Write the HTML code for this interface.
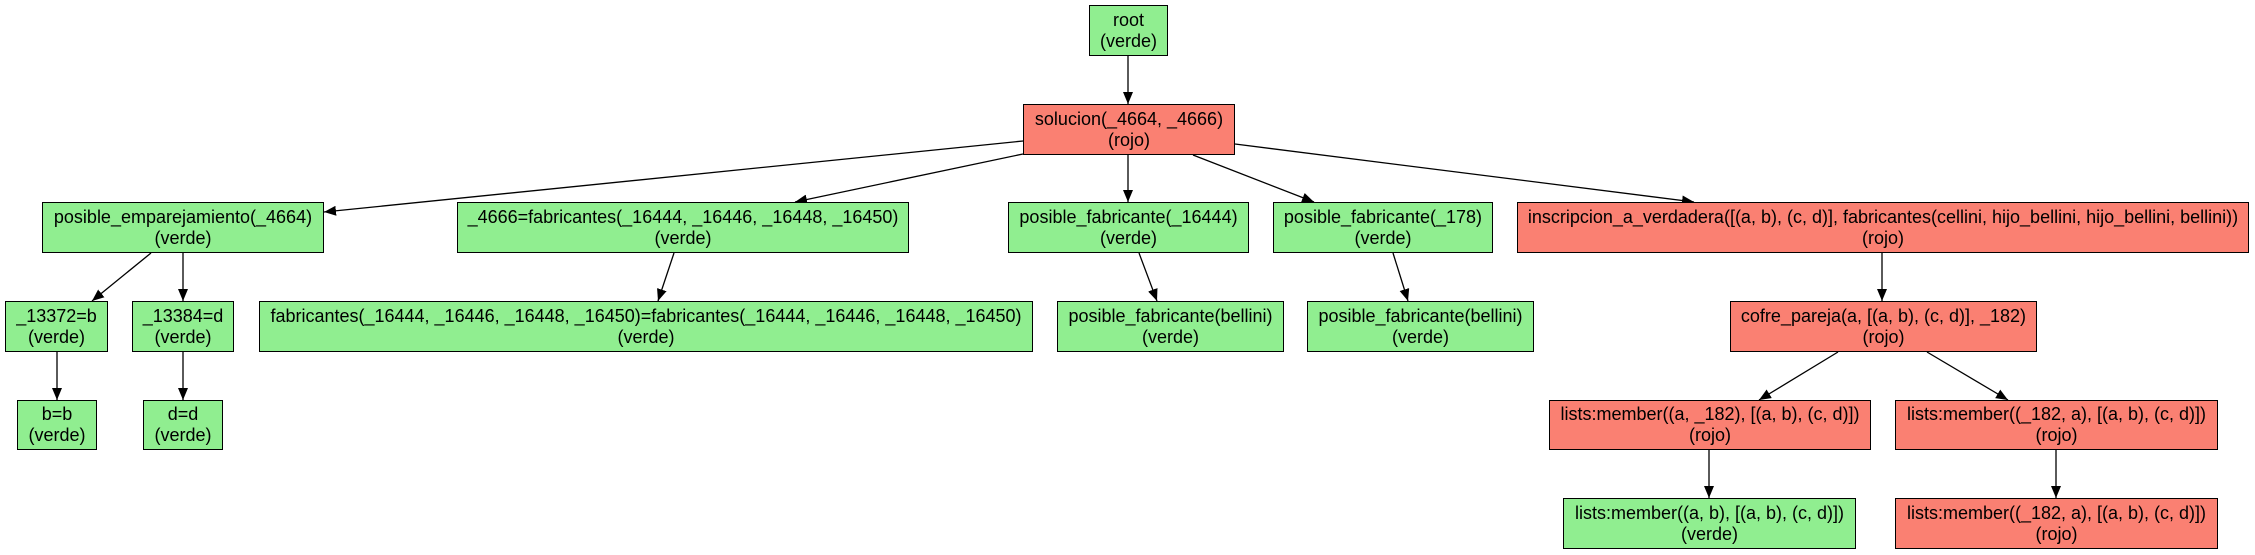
<!DOCTYPE html>
<html><head><meta charset="utf-8"><style>
body{margin:0;width:2255px;height:555px;background:#fff;position:relative;overflow:hidden;font-family:"Liberation Sans",Arial,sans-serif;}
.n{position:absolute;box-sizing:border-box;border:1.5px solid #000;display:flex;flex-direction:column;justify-content:center;align-items:center;text-align:center;font-size:18px;line-height:21px;color:#000;white-space:nowrap;}
.n span{display:block;text-align:center}
.g{background:#90ee90}.r{background:#fa8072}
svg{position:absolute;left:0;top:0}
</style></head><body>
<svg width="2255" height="555">
<defs><marker id="a" markerWidth="12" markerHeight="10" refX="12" refY="5" orient="auto" markerUnits="userSpaceOnUse"><path d="M0,0 L12,5 L0,10 z" fill="#000"/></marker></defs>
<g stroke="#000" stroke-width="1.3" marker-end="url(#a)">
<line x1="1128" y1="56" x2="1128" y2="104"/>
<line x1="1023" y1="141" x2="324" y2="212"/>
<line x1="1023" y1="154" x2="795" y2="202"/>
<line x1="1128" y1="155" x2="1128" y2="202"/>
<line x1="1193" y1="155" x2="1314" y2="202"/>
<line x1="1235" y1="144" x2="1694" y2="202"/>
<line x1="151" y1="253" x2="92" y2="301"/>
<line x1="183" y1="253" x2="183" y2="301"/>
<line x1="674" y1="253" x2="658" y2="301"/>
<line x1="1139" y1="253" x2="1157" y2="301"/>
<line x1="1393" y1="253" x2="1408" y2="301"/>
<line x1="1882" y1="253" x2="1882" y2="301"/>
<line x1="57" y1="352" x2="57" y2="400"/>
<line x1="183" y1="352" x2="183" y2="400"/>
<line x1="1838" y1="352" x2="1759" y2="400"/>
<line x1="1927" y1="352" x2="2008" y2="400"/>
<line x1="1709" y1="450" x2="1709" y2="498"/>
<line x1="2056" y1="450" x2="2056" y2="498"/>
</g></svg>
<div class="n g" style="left:1089px;top:5px;width:79px;height:51px"><span>root</span><span>(verde)</span></div>
<div class="n r" style="left:1023px;top:104px;width:212px;height:51px"><span>solucion(_4664, _4666)</span><span>(rojo)</span></div>
<div class="n g" style="left:42px;top:202px;width:282px;height:51px"><span>posible_emparejamiento(_4664)</span><span>(verde)</span></div>
<div class="n g" style="left:457px;top:202px;width:452px;height:51px"><span>_4666=fabricantes(_16444, _16446, _16448, _16450)</span><span>(verde)</span></div>
<div class="n g" style="left:1008px;top:202px;width:241px;height:51px"><span>posible_fabricante(_16444)</span><span>(verde)</span></div>
<div class="n g" style="left:1273px;top:202px;width:220px;height:51px"><span>posible_fabricante(_178)</span><span>(verde)</span></div>
<div class="n r" style="left:1517px;top:202px;width:732px;height:51px"><span>inscripcion_a_verdadera([(a, b), (c, d)], fabricantes(cellini, hijo_bellini, hijo_bellini, bellini))</span><span>(rojo)</span></div>
<div class="n g" style="left:5px;top:301px;width:103px;height:51px"><span>_13372=b</span><span>(verde)</span></div>
<div class="n g" style="left:132px;top:301px;width:102px;height:51px"><span>_13384=d</span><span>(verde)</span></div>
<div class="n g" style="left:259px;top:301px;width:774px;height:51px"><span>fabricantes(_16444, _16446, _16448, _16450)=fabricantes(_16444, _16446, _16448, _16450)</span><span>(verde)</span></div>
<div class="n g" style="left:1057px;top:301px;width:227px;height:51px"><span>posible_fabricante(bellini)</span><span>(verde)</span></div>
<div class="n g" style="left:1307px;top:301px;width:227px;height:51px"><span>posible_fabricante(bellini)</span><span>(verde)</span></div>
<div class="n r" style="left:1730px;top:301px;width:307px;height:51px"><span>cofre_pareja(a, [(a, b), (c, d)], _182)</span><span>(rojo)</span></div>
<div class="n g" style="left:17px;top:400px;width:80px;height:50px"><span>b=b</span><span>(verde)</span></div>
<div class="n g" style="left:143px;top:400px;width:80px;height:50px"><span>d=d</span><span>(verde)</span></div>
<div class="n r" style="left:1549px;top:400px;width:322px;height:50px"><span>lists:member((a, _182), [(a, b), (c, d)])</span><span>(rojo)</span></div>
<div class="n r" style="left:1895px;top:400px;width:323px;height:50px"><span>lists:member((_182, a), [(a, b), (c, d)])</span><span>(rojo)</span></div>
<div class="n g" style="left:1563px;top:498px;width:293px;height:51px"><span>lists:member((a, b), [(a, b), (c, d)])</span><span>(verde)</span></div>
<div class="n r" style="left:1895px;top:498px;width:323px;height:51px"><span>lists:member((_182, a), [(a, b), (c, d)])</span><span>(rojo)</span></div>
</body></html>
